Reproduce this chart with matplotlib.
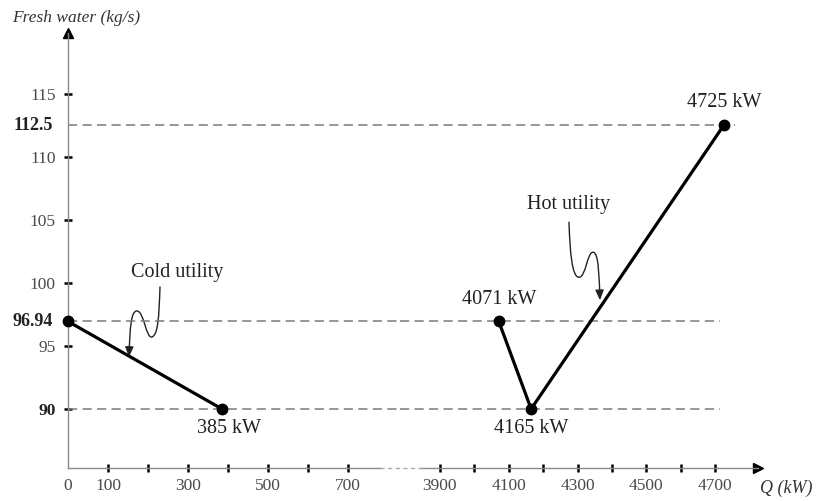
import matplotlib
matplotlib.use("Agg")
import matplotlib.pyplot as plt
from matplotlib.path import Path
from matplotlib.patches import FancyArrowPatch
from matplotlib.transforms import ScaledTranslation, blended_transform_factory
from matplotlib.lines import Line2D

plt.rcParams['font.family'] = ['Liberation Serif', 'DejaVu Serif']

# ---- data ----
cold_q = [0, 385]
cold_w = [96.94, 90]
hot_q = [4071, 4165, 4725]
hot_w = [96.94, 90, 112.5]
ref_levels = [90, 96.94, 112.5]
y_ticks = [90, 95, 100, 105, 110, 115]
y_bold_labels = [96.94, 112.5]
left_ticks = [0, 100, 200, 300, 400, 500, 600, 700]
left_labels = ['0', '100', '', '300', '', '500', '', '700']
right_ticks = [3900, 4000, 4100, 4200, 4300, 4400, 4500, 4600, 4700]
right_labels = ['3900', '', '4100', '', '4300', '', '4500', '', '4700']
point_labels = [(385, 90, '385 kW'), (4071, 96.94, '4071 kW'),
                (4165, 90, '4165 kW'), (4725, 112.5, '4725 kW')]

W, H = 821, 501
fig = plt.figure(figsize=(W / 100, H / 100), dpi=100)
bot = (H - 468) / H
hgt = (468 - 33) / H
axL = fig.add_axes([68 / W, bot, 332 / W, hgt])
axR = fig.add_axes([400 / W, bot, 360 / W, hgt], sharey=axL)

axL.set_xlim(0, 830)
axR.set_xlim(3784, 4830)
axL.set_ylim(85.32, 119.8)

axis_col = '#8a8a8a'
txt_col = '#222222'
tick_col = '#4a4a4a'

for ax in (axL, axR):
    ax.patch.set_alpha(0)
    for s in ('top', 'right'):
        ax.spines[s].set_visible(False)
    ax.spines['bottom'].set_color(axis_col)
    ax.spines['bottom'].set_linewidth(1.0)
    ax.tick_params(axis='x', direction='inout', length=6, width=1.8, color='black',
                   labelsize=12.5, labelcolor=tick_col, pad=4)

axL.spines['left'].set_color(axis_col)
axL.spines['left'].set_linewidth(1.0)
axR.spines['left'].set_visible(False)
axR.tick_params(axis='y', left=False, labelleft=False)

axL.spines['bottom'].set_bounds(0, 780)
axR.spines['bottom'].set_bounds(3842, 4824)

axL.set_xticks(left_ticks)
axL.set_xticklabels(left_labels)
axL.xaxis.get_major_ticks()[0].tick1line.set_visible(False)
axR.set_xticks(right_ticks)
axR.set_xticklabels(right_labels)

axL.set_yticks(y_ticks)
axL.set_yticklabels([str(v) for v in y_ticks])
axL.tick_params(axis='y', direction='inout', length=6, width=1.8, color='black',
                labelsize=12.5, labelcolor=tick_col, pad=6)
axL.get_yticklabels()[0].set_fontweight('bold')
axL.get_yticklabels()[0].set_color('#222222')

bt = blended_transform_factory(axL.transAxes, axL.transData)
for v in y_bold_labels:
    axL.text(-0.045, v, f'{v:g}', transform=bt, ha='right', va='center',
             fontsize=13, fontweight='bold', color='#222222')

# arrows on axes
axL.plot([0], [1], marker='^', color='black', markersize=7, transform=axL.transAxes,
         clip_on=False)
axR.plot([0.995], [0], marker='>', color='black', markersize=7, transform=axR.transAxes,
         clip_on=False)
# broken-axis dashed gap
fig.add_artist(Line2D([380 / W, 422 / W], [bot, bot], transform=fig.transFigure,
                      color='#aaaaaa', lw=1.0, ls=(0, (3, 2.5))))

# dashed reference lines
dash = dict(color='#7a7a7a', lw=1.1, ls=(0, (6, 3.5)))
for v in ref_levels:
    axL.axhline(v, **dash)
axR.hlines([90, 96.94], 3784, 4715, **dash)
axR.hlines([112.5], 3784, 4758, **dash)

# curves
axL.plot(cold_q, cold_w, color='black', lw=2.3, marker='o', markersize=7.5,
         clip_on=False, zorder=5)
axR.plot(hot_q, hot_w, color='black', lw=2.3, marker='o', markersize=7.5,
         clip_on=False, zorder=5)

# point labels
for q, w, s in point_labels:
    ax = axL if q < 1000 else axR
    dy = 16 if w > 95 else -14
    dx = 5 if q == 385 else 0
    ax.annotate(s, (q, w), xytext=(dx, dy), textcoords='offset points',
                ha='center', va='center', fontsize=14.5, color=txt_col)

# utility labels with squiggly arrows
axL.text(272, 100.78, 'Cold utility', ha='center', va='center', fontsize=14.5, color=txt_col)
axR.text(4275, 106.24, 'Hot utility', ha='center', va='center', fontsize=14.5, color=txt_col)


def squiggle(ax, x, y, pts):
    verts = [(px / 100, py / 100) for px, py in pts]
    codes = [Path.MOVETO] + [Path.CURVE4] * (len(verts) - 1)
    trans = fig.dpi_scale_trans + ScaledTranslation(x, y, ax.transData)
    arr = FancyArrowPatch(path=Path(verts, codes),
                          arrowstyle='-|>,head_length=0.6,head_width=0.25',
                          mutation_scale=10, transform=trans, lw=1.0,
                          color=txt_col, shrinkA=0, shrinkB=0, clip_on=False)
    ax.add_patch(arr)


squiggle(axL, 230, 99.67, [(0, 0), (-1, -30), (-2, -48), (-8, -50),
                           (-14, -52), (-16, -24), (-23, -24),
                           (-29, -24), (-30, -40), (-31, -70)])
squiggle(axR, 4275, 104.8, [(0, 0), (1, -30), (3, -55), (10, -55),
                            (17, -55), (18, -30), (24, -30),
                            (30, -30), (30, -55), (31, -78)])

# axis titles
fig.text(12 / W, 1 - 18 / H, 'Fresh water (kg/s)', ha='left', va='center',
         fontsize=12.5, style='italic', color='#333333')
fig.text(760 / W, 1 - 488 / H, 'Q (kW)', ha='left', va='center',
         fontsize=13, style='italic', color='#333333')

fig.savefig('out.png', dpi=100)
